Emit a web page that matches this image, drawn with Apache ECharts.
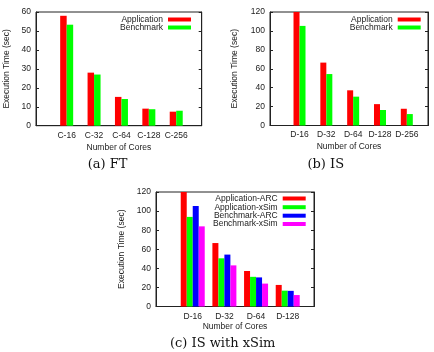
<!DOCTYPE html>
<html>
<head>
<meta charset="utf-8">
<script src="https://cdn.jsdelivr.net/npm/echarts@6/dist/echarts.min.js"></script>
<style>
  html, body { margin: 0; padding: 0; background: #fff; }
  #chart { width: 434px; height: 352px; }
</style>
</head>
<body>
<div id="chart"></div>
<script>
// categories
const ftCats = ['C-16', 'C-32', 'C-64', 'C-128', 'C-256'];
const isCats = ['D-16', 'D-32', 'D-64', 'D-128', 'D-256'];
const xsimCats = ['D-16', 'D-32', 'D-64', 'D-128'];

// (a) FT, seconds
const ftApp = [58.0, 28.0, 15.2, 9.0, 7.4];
const ftBench = [53.3, 27.0, 14.1, 8.7, 7.9];

// (b) IS, seconds
const isApp = [120, 66.5, 37.2, 22.6, 17.7];
const isBench = [105.3, 54.4, 30.5, 16.4, 12.1];

// (c) IS with xSim, seconds
const xsimAppArc = [120, 66.5, 37.2, 22.6];
const xsimAppXsim = [93.9, 50.5, 31.1, 16.6];
const xsimBenchArc = [105.3, 54.4, 30.5, 16.4];
const xsimBenchXsim = [84, 43.1, 24, 12];

// y tick labels
const ftTicks = [0, 10, 20, 30, 40, 50, 60];
const isTicks = [0, 20, 40, 60, 80, 100, 120];

const FONT = 'Liberation Sans';
const INK = '#222';

const chart = echarts.init(document.getElementById('chart'));

function pairs(vals) {
  return vals.map((v, i) => [i, v]);
}

function xAxis(gridIndex, cats, min, max, margin, nameGap) {
  return {
    gridIndex: gridIndex,
    type: 'value',
    min: min,
    max: max,
    name: 'Number of Cores',
    nameLocation: 'middle',
    nameGap: nameGap,
    nameTextStyle: { fontFamily: FONT, fontSize: 8.5, color: INK },
    axisLine: { show: true, onZero: false, lineStyle: { color: INK, width: 1 } },
    axisTick: { show: false },
    splitLine: { show: false },
    axisLabel: {
      customValues: cats.map((c, i) => i),
      formatter: v => cats[Math.round(v)],
      margin: margin,
      fontFamily: FONT,
      fontSize: 8.5,
      color: INK
    }
  };
}

function yAxes(gridIndex, ticks, nameGap) {
  const base = {
    gridIndex: gridIndex,
    type: 'value',
    min: ticks[0],
    max: ticks[ticks.length - 1],
    interval: ticks[1] - ticks[0],
    splitLine: { show: false },
    axisLine: { show: true, onZero: false, lineStyle: { color: INK, width: 1 } },
    axisTick: { show: true, inside: true, length: 3, lineStyle: { color: INK } }
  };
  return [
    Object.assign({}, base, {
      position: 'left',
      name: 'Execution Time (sec)',
      nameLocation: 'middle',
      nameGap: nameGap,
      nameTextStyle: { fontFamily: FONT, fontSize: 8.5, color: INK },
      axisLabel: { margin: 5, fontFamily: FONT, fontSize: 8.5, color: INK }
    }),
    Object.assign({}, base, {
      position: 'right',
      axisLabel: { show: false }
    })
  ];
}

function bar(name, color, xi, yi, vals, width) {
  return {
    type: 'bar',
    name: name,
    xAxisIndex: xi,
    yAxisIndex: yi,
    data: pairs(vals),
    barWidth: width,
    barGap: '0%',
    itemStyle: { color: color },
    animation: false
  };
}

function legendItem(name, right, top) {
  return {
    data: [name],
    right: right,
    top: top,
    orient: 'horizontal',
    align: 'right',
    icon: 'rect',
    itemWidth: 23,
    itemHeight: 4,
    padding: 0,
    selectedMode: false,
    textStyle: { fontFamily: FONT, fontSize: 8.5, color: INK }
  };
}

function caption(text, x, y) {
  return {
    type: 'text',
    x: x,
    y: y,
    style: {
      text: text,
      fontFamily: 'DejaVu Serif',
      fontSize: 13,
      fill: '#111',
      align: 'center',
      verticalAlign: 'middle'
    }
  };
}

const gridStyle = { show: true, borderColor: INK, borderWidth: 1, backgroundColor: 'transparent' };

const option = {
  animation: false,
  grid: [
    Object.assign({ left: 36, top: 12, width: 165.7, height: 113.7 }, gridStyle),
    Object.assign({ left: 270, top: 12, width: 158, height: 113.5 }, gridStyle),
    Object.assign({ left: 156, top: 192, width: 158, height: 114.5 }, gridStyle)
  ],
  xAxis: [
    xAxis(0, ftCats, -1.12, 4.93, 5, 17),
    xAxis(1, isCats, -1.10, 4.79, 5, 17),
    xAxis(2, xsimCats, -1.16, 3.83, 6, 16)
  ],
  yAxis: [].concat(
    yAxes(0, ftTicks, 25),
    yAxes(1, isTicks, 31),
    yAxes(2, isTicks, 30)
  ),
  legend: [
    legendItem('Application', 243, 15),
    legendItem('Benchmark', 243, 23),
    legendItem('Application', 13.3, 15),
    legendItem('Benchmark', 13.3, 23),
    legendItem('Application-ARC', 128.3, 194),
    legendItem('Application-xSim', 128.3, 202.7),
    legendItem('Benchmark-ARC', 128.3, 211.2),
    legendItem('Benchmark-xSim', 128.3, 219.5)
  ],
  series: [
    bar('Application', '#ff0000', 0, 0, ftApp, 6.5),
    bar('Benchmark', '#00ff00', 0, 0, ftBench, 6.5),
    bar('Application', '#ff0000', 1, 2, isApp, 6),
    bar('Benchmark', '#00ff00', 1, 2, isBench, 6),
    bar('Application-ARC', '#ff0000', 2, 4, xsimAppArc, 6),
    bar('Application-xSim', '#00ff00', 2, 4, xsimAppXsim, 6),
    bar('Benchmark-ARC', '#0000ff', 2, 4, xsimBenchArc, 6),
    bar('Benchmark-xSim', '#ff00ff', 2, 4, xsimBenchXsim, 6)
  ],
  graphic: [
    caption('(a) FT', 107.5, 165),
    caption('(b) IS', 325.8, 165),
    caption('(c) IS with xSim', 222.7, 344)
  ]
};

chart.setOption(option);
</script>
</body>
</html>
